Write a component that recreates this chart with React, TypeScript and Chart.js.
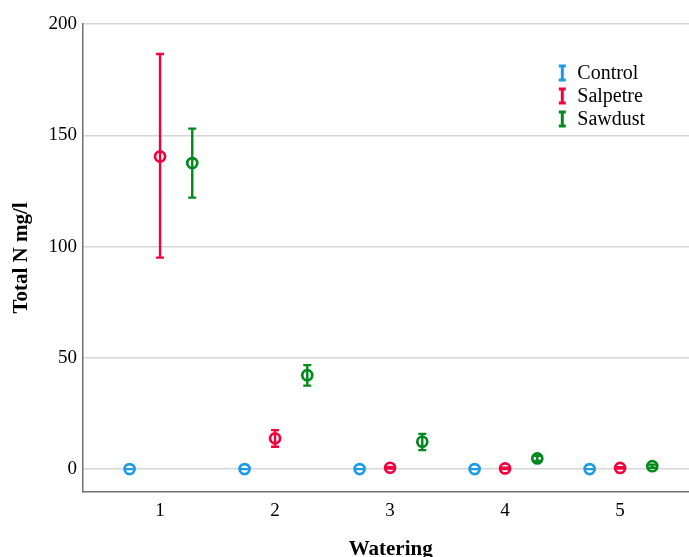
import { useEffect, useRef } from "react";
import { Chart, registerables } from "chart.js";

Chart.register(...registerables);

const waterings = [1, 2, 3, 4, 5];
const yTicks = [0, 50, 100, 150, 200];
const seriesNames = ["Control", "Salpetre", "Sawdust"];
const seriesColors = ["#1a9be6", "#f2003c", "#00891c"];

const controlMean = [0, 0, 0, 0, 0];
const controlLow = [0, 0, 0, 0, 0];
const controlHigh = [0, 0, 0, 0, 0];

const salpetreMean = [140.5, 13.8, 0.6, 0.3, 0.5];
const salpetreLow = [95, 10, 0.2, 0.0, 0.2];
const salpetreHigh = [186.5, 17.5, 1.0, 0.6, 0.8];

const sawdustMean = [137.5, 42.2, 12.3, 4.8, 1.3];
const sawdustLow = [122, 37.5, 8.5, 3.6, 0.6];
const sawdustHigh = [153, 46.7, 15.8, 6.0, 2.0];

const FONT = '"Liberation Serif", "Times New Roman", serif';
const OFFSETS = [-0.265, 0, 0.28];

const means = [controlMean, salpetreMean, sawdustMean];
const lows = [controlLow, salpetreLow, sawdustLow];
const highs = [controlHigh, salpetreHigh, sawdustHigh];

const errorBarPlugin = {
  id: "errorBars",
  afterDatasetsDraw(chart: any) {
    const ctx = chart.ctx;
    const yScale = chart.scales.y;
    chart.data.datasets.forEach((ds: any, i: number) => {
      const meta = chart.getDatasetMeta(i);
      meta.data.forEach((pt: any, j: number) => {
        const d = ds.data[j];
        const x = pt.x;
        const yl = yScale.getPixelForValue(d.low);
        const yh = yScale.getPixelForValue(d.high);
        ctx.save();
        ctx.strokeStyle = ds.borderColor;
        ctx.lineWidth = 2.4;
        ctx.beginPath();
        ctx.moveTo(x, yl);
        ctx.lineTo(x, yh);
        ctx.moveTo(x - 4, yl);
        ctx.lineTo(x + 4, yl);
        ctx.moveTo(x - 4, yh);
        ctx.lineTo(x + 4, yh);
        ctx.stroke();
        ctx.restore();
      });
    });
  },
};

const legendPlugin = {
  id: "innerLegend",
  afterDraw(chart: any) {
    const ctx = chart.ctx;
    const area = chart.chartArea;
    const iconX = area.right - 136;
    const textX = area.right - 121;
    const startY = area.top + 49;
    ctx.save();
    seriesNames.forEach((name, i) => {
      const y = startY + i * 23;
      ctx.strokeStyle = seriesColors[i];
      ctx.lineWidth = 3;
      ctx.beginPath();
      ctx.moveTo(iconX, y - 7);
      ctx.lineTo(iconX, y + 7);
      ctx.moveTo(iconX - 3.5, y - 7);
      ctx.lineTo(iconX + 3.5, y - 7);
      ctx.moveTo(iconX - 3.5, y + 7);
      ctx.lineTo(iconX + 3.5, y + 7);
      ctx.stroke();
      ctx.fillStyle = "#000";
      ctx.font = `20px ${FONT}`;
      ctx.textAlign = "left";
      ctx.textBaseline = "middle";
      ctx.fillText(name, textX, y + 1);
    });
    ctx.restore();
  },
};

export default function App() {
  const canvasRef = useRef<HTMLCanvasElement | null>(null);

  useEffect(() => {
    if (!canvasRef.current) return;
    const datasets = seriesNames.map((name, i) => ({
      label: name,
      data: waterings.map((w, j) => ({
        x: w + OFFSETS[i],
        y: means[i][j],
        low: lows[i][j],
        high: highs[i][j],
      })),
      borderColor: seriesColors[i],
      backgroundColor: "#ffffff",
      pointRadius: 5,
      pointHoverRadius: 5,
      pointBorderWidth: 2.7,
      showLine: false,
    }));

    const chart = new Chart(canvasRef.current, {
      type: "scatter",
      data: { datasets },
      options: {
        animation: false,
        responsive: true,
        maintainAspectRatio: false,
        layout: { padding: { top: 24, right: 0, left: 0, bottom: 0 } },
        plugins: {
          legend: { display: false },
          tooltip: { enabled: false },
        },
        scales: {
          x: {
            type: "linear",
            min: 0.33,
            max: 5.68,
            afterBuildTicks: (scale: any) => {
              scale.ticks = waterings.map((v) => ({ value: v }));
            },
            afterFit: (scale: any) => {
              scale.height = 68;
            },
            grid: { display: false, drawTicks: false },
            border: { display: true, color: "#707070", width: 1.5 },
            ticks: {
              padding: 8,
              color: "#000",
              font: { family: FONT, size: 19 },
              callback: (v: any) => String(v),
            },
            title: {
              display: true,
              text: "Watering",
              color: "#000",
              font: { family: FONT, size: 21, weight: "bold", lineHeight: 1 },
              padding: { top: 0, bottom: 0 },
            },
          },
          y: {
            type: "linear",
            min: -10.3,
            max: 200,
            afterBuildTicks: (scale: any) => {
              scale.ticks = yTicks.map((v) => ({ value: v }));
            },
            afterFit: (scale: any) => {
              scale.width = 83;
            },
            grid: { color: "#d6d6d6", lineWidth: 1.5, drawTicks: false },
            border: { display: true, color: "#707070", width: 1.5 },
            ticks: {
              padding: 6,
              color: "#000",
              font: { family: FONT, size: 19 },
              callback: (v: any) => String(v),
            },
            title: {
              display: true,
              text: "Total N mg/l",
              color: "#000",
              font: { family: FONT, size: 21, weight: "bold", lineHeight: 1 },
              padding: { top: 11, bottom: 0 },
            },
          },
        },
      },
      plugins: [errorBarPlugin, legendPlugin],
    });
    return () => chart.destroy();
  }, []);

  return (
    <div
      style={{
        position: "fixed",
        left: 0,
        top: 0,
        width: 689,
        height: 557,
        overflow: "hidden",
        background: "#fff",
      }}
    >
      <div style={{ position: "relative", width: 706, height: 560 }}>
        <canvas ref={canvasRef} />
      </div>
    </div>
  );
}
